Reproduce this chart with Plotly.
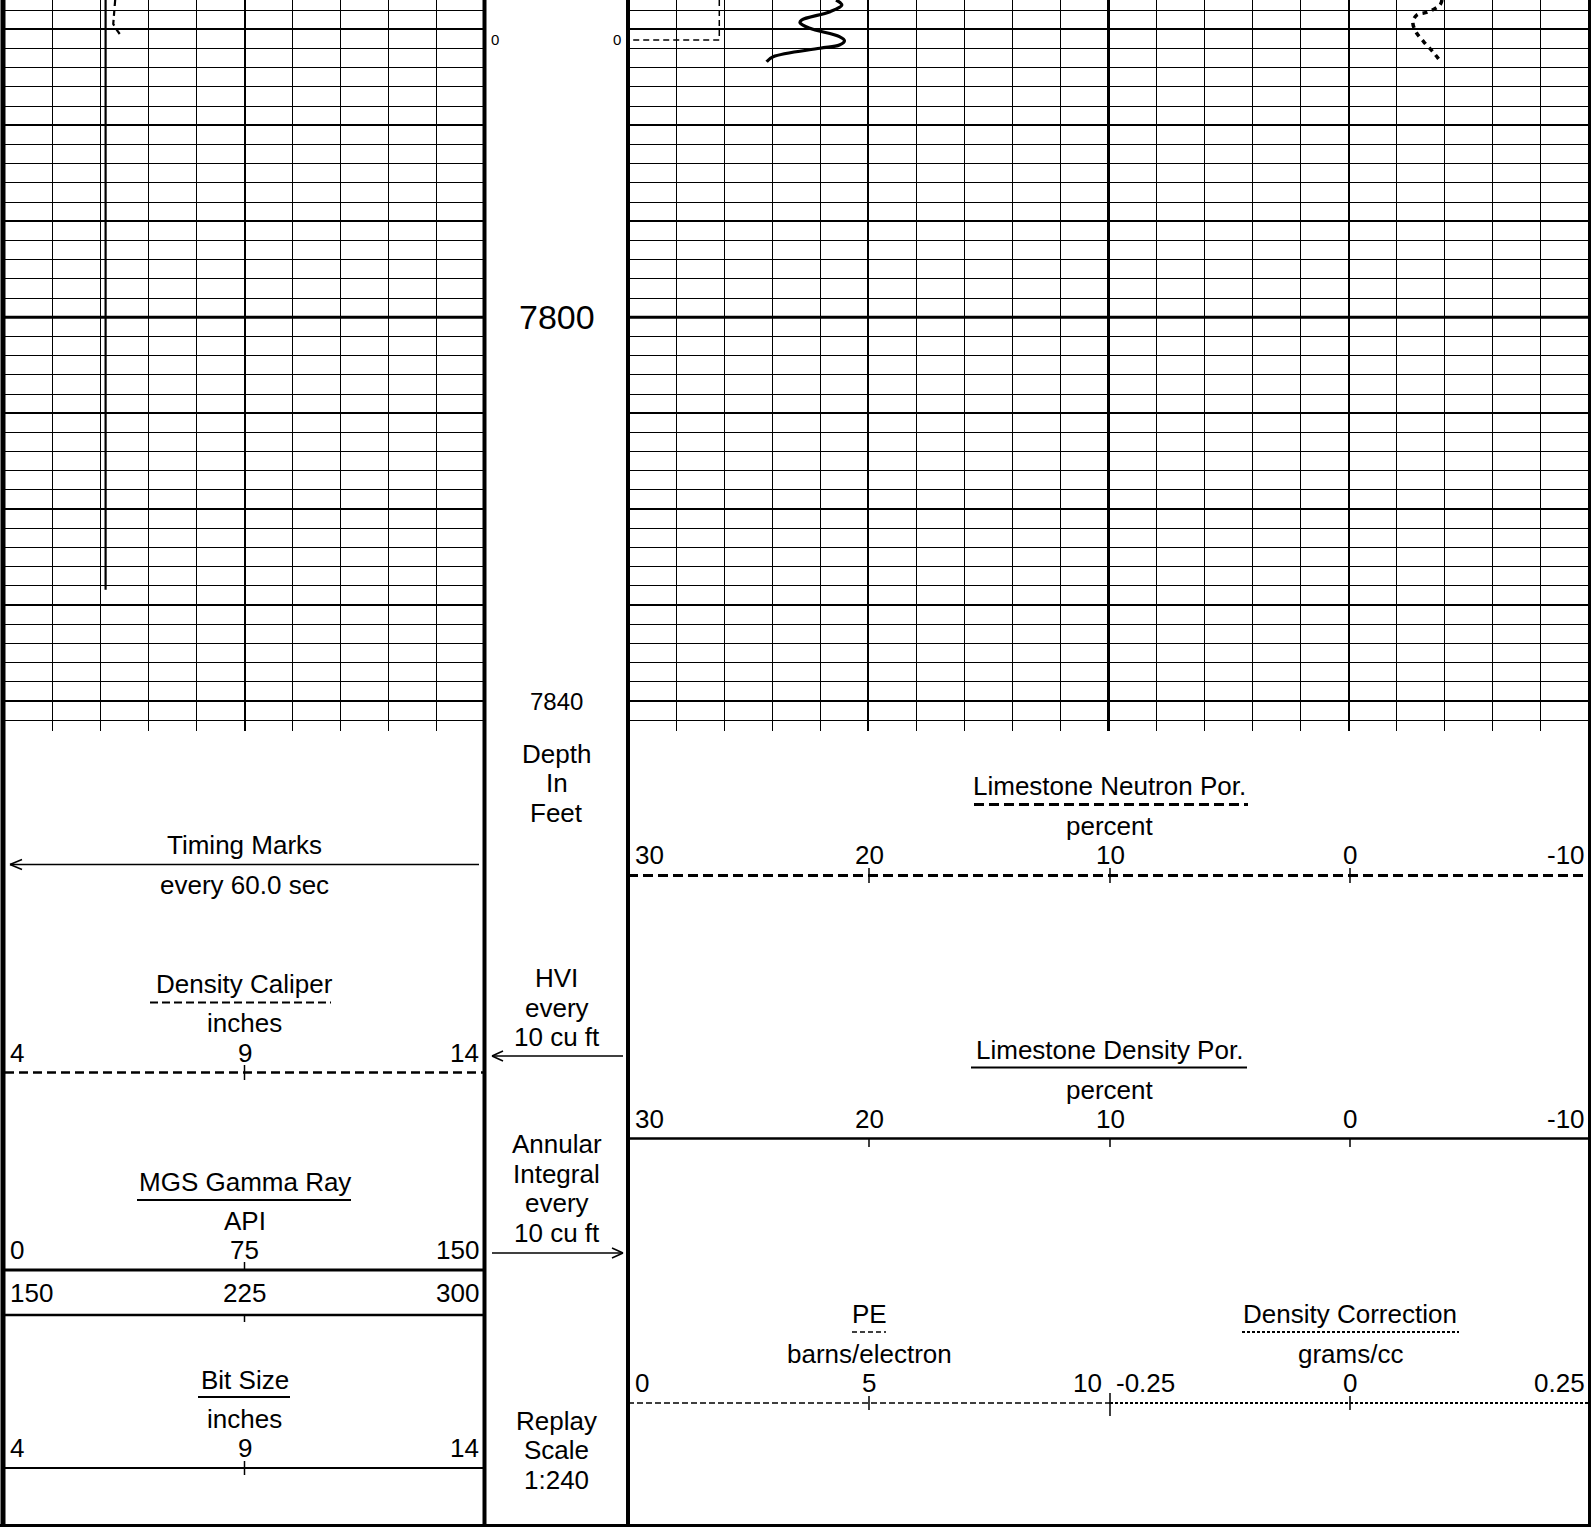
import plotly.graph_objects as go

# ---------------- data ----------------
depth_top = 7766.94
depth_bottom = 7843.12

# Track 1 curves (scale 4-14 in)
bit_depth = [7766.9, 7828.4]
bit_size = [6.1, 6.1]
cal_depth = [7766.94, 7768.19, 7769.44, 7769.96, 7770.80]
caliper = [6.30, 6.28, 6.26, 6.32, 6.44]

# Track 2/3 curves
dphi_depth = [7766.94, 7767.46, 7768.16, 7769.02, 7769.31, 7769.89, 7770.76, 7771.18,
              7771.63, 7771.97, 7772.85, 7773.37]
dphi = [21.34, 21.10, 21.59, 22.77, 22.84, 22.43, 21.20, 20.99, 21.20, 22.01, 23.96, 24.23]
nphi_depth = [7766.94, 7767.46, 7768.19, 7768.50, 7769.23, 7770.27, 7771.32, 7772.36, 7773.40]
nphi = [-3.88, -3.80, -3.30, -2.84, -2.67, -2.80, -3.13, -3.51, -3.84]
pe_depth = [7766.94, 7771.1, 7771.1]
pe = [1.9, 1.9, 0.1]

depth_labels = [7800, 7840]
integ_depth = 7771.1

t1_ticks = ["4", "9", "14"]
gr_ticks = ["0", "75", "150"]
gr_back_ticks = ["150", "225", "300"]
por_ticks = ["30", "20", "10", "0", "-10"]

# ---------------- geometry helpers ----------------
W, H = 1591, 1531
FONT = "Arial, Liberation Sans, sans-serif"
FS = 26


def px(x):
    return x / W


def py(y):
    return 1 - y / H


shapes = []
annotations = []


def line(x0, y0, x1, y1, width=1.5, dash="solid"):
    shapes.append(dict(type="line", xref="paper", yref="paper",
                       x0=px(x0), y0=py(y0), x1=px(x1), y1=py(y1),
                       line=dict(color="black", width=width, dash=dash)))


def text(t, x, y, size=FS, anchor="center"):
    annotations.append(dict(text=t, xref="paper", yref="paper", x=px(x), y=py(y),
                            xanchor=anchor, yanchor="middle", showarrow=False,
                            font=dict(family=FONT, size=size, color="black")))


# ---------------- figure ----------------
fig = go.Figure()
fig.add_trace(go.Scatter(x=bit_size, y=bit_depth, mode="lines", xaxis="x", yaxis="y",
                         line=dict(color="black", width=2.2), name="Bit Size"))
fig.add_trace(go.Scatter(x=caliper, y=cal_depth, mode="lines", xaxis="x", yaxis="y",
                         line=dict(color="black", width=2.2, dash="6px,4px"), name="Density Caliper"))
fig.add_trace(go.Scatter(x=dphi, y=dphi_depth, mode="lines", xaxis="x2", yaxis="y2",
                         line=dict(color="black", width=3.2, shape="spline"),
                         name="Limestone Density Por."))
fig.add_trace(go.Scatter(x=nphi, y=nphi_depth, mode="lines", xaxis="x2", yaxis="y2",
                         line=dict(color="black", width=3.5, dash="5px,5px", shape="spline"),
                         name="Limestone Neutron Por."))
fig.add_trace(go.Scatter(x=pe, y=pe_depth, mode="lines", xaxis="x3", yaxis="y2",
                         line=dict(color="black", width=1.5, dash="6px,4px"), name="PE"))

grid_dom_y = [py(731), 1]
ax_common = dict(showticklabels=False, ticks="", showline=False, zeroline=False,
                 fixedrange=True)

fig.update_layout(
    width=W, height=H, margin=dict(l=0, r=0, t=0, b=0),
    paper_bgcolor="white", plot_bgcolor="white", showlegend=False,
    xaxis=dict(domain=[px(5), px(484)], anchor="y", range=[4, 14],
               showgrid=True, gridcolor="black", gridwidth=2, dtick=5, tick0=4,
               minor=dict(dtick=1, tick0=4, showgrid=True, gridcolor="black", gridwidth=1, ticks=""),
               **ax_common),
    yaxis=dict(domain=grid_dom_y, anchor="x", range=[depth_bottom, depth_top],
               showgrid=True, gridcolor="black", gridwidth=2, dtick=10, tick0=7800,
               minor=dict(dtick=2, tick0=7800, showgrid=True, gridcolor="black", gridwidth=1, ticks=""),
               **ax_common),
    xaxis2=dict(domain=[px(628), px(1589)], anchor="y2", range=[30, -10],
                showgrid=True, gridcolor="black", gridwidth=2, dtick=10, tick0=0,
                minor=dict(dtick=2, tick0=0, showgrid=True, gridcolor="black", gridwidth=1, ticks=""),
                **ax_common),
    yaxis2=dict(domain=grid_dom_y, anchor="x2", matches="y", range=[depth_bottom, depth_top],
                showgrid=True, gridcolor="black", gridwidth=2, dtick=10, tick0=7800,
                minor=dict(dtick=2, tick0=7800, showgrid=True, gridcolor="black", gridwidth=1, ticks=""),
                **ax_common),
    xaxis3=dict(overlaying="x2", anchor="y2", range=[0, 20], visible=False, fixedrange=True),
)

# heavier grid lines
for xr, yr in (("x domain", "y"), ("x2 domain", "y2")):
    shapes.append(dict(type="line", xref=xr, yref=yr, x0=0, x1=1, y0=7800, y1=7800,
                       line=dict(color="black", width=3)))
shapes.append(dict(type="line", xref="x2", yref="y2 domain", x0=10, x1=10, y0=0, y1=1,
                   line=dict(color="black", width=3)))

# borders
line(3, 0, 3, 1525, width=5)
line(484.5, 0, 484.5, 1525, width=4)
line(628, 0, 628, 1525, width=4)
line(1589.5, 0, 1589.5, 1525, width=3)
line(0, 1525.5, 1591, 1525.5, width=3)

# ---- Track 1 header ----
c1 = 244.5
line(10, 864.5, 479, 864.5, width=1.5)
line(10, 864.5, 22, 859.5, width=1.5)
line(10, 864.5, 22, 869.5, width=1.5)
text("Timing Marks", c1, 845)
text("every 60.0 sec", c1, 885)

text("Density Caliper", c1, 984)
line(150, 1002.5, 331, 1002.5, width=2, dash="8px,4px")
text("inches", c1, 1023)
line(5, 1072.5, 484, 1072.5, width=2.5, dash="9px,5px")
line(c1, 1065, c1, 1080, width=1.5)

text("MGS Gamma Ray", c1, 1182)
line(137, 1200, 351, 1200, width=2.2)
text("API", c1, 1221)
line(5, 1270, 484, 1270, width=3)
line(c1, 1262, c1, 1270, width=1.5)
line(5, 1315, 484, 1315, width=2.5)
line(c1, 1315, c1, 1322, width=1.5)

text("Bit Size", c1, 1380)
line(198, 1397, 290, 1397, width=2)
text("inches", c1, 1418.5)
line(5, 1468, 484, 1468, width=2)
line(c1, 1461, c1, 1475, width=1.5)

for y, labs in ((1053, t1_ticks), (1250, gr_ticks), (1293, gr_back_ticks), (1448, t1_ticks)):
    text(labs[0], 8, y, anchor="left")
    text(labs[1], c1, y)
    text(labs[2], 481, y, anchor="right")

# ---- Depth track ----
c2 = 556.5
for d, sz in zip(depth_labels, (34, 24)):
    annotations.append(dict(text=str(d), xref="paper", yref="y", x=px(c2), y=d,
                            xanchor="center", yanchor="middle", showarrow=False,
                            font=dict(family=FONT, size=sz, color="black")))
annotations.append(dict(text="0", xref="paper", yref="y", x=px(489), y=integ_depth,
                        xanchor="left", yanchor="middle", showarrow=False,
                        font=dict(family=FONT, size=15, color="black")))
annotations.append(dict(text="0", xref="paper", yref="y", x=px(623), y=integ_depth,
                        xanchor="right", yanchor="middle", showarrow=False,
                        font=dict(family=FONT, size=15, color="black")))
for t, y in (("Depth", 754), ("In", 783), ("Feet", 813),
             ("HVI", 978), ("every", 1007.6), ("10 cu ft", 1037),
             ("Annular", 1143.6), ("Integral", 1174), ("every", 1203), ("10 cu ft", 1233),
             ("Replay", 1420.6), ("Scale", 1450), ("1:240", 1480)):
    text(t, c2, y)
# HVI arrow (points left)
line(492, 1056, 623, 1056, width=1.5)
line(492, 1056, 503, 1051, width=1.5)
line(492, 1056, 503, 1061, width=1.5)
# Annular arrow (points right)
line(492, 1253, 623, 1253, width=1.5)
line(623, 1253, 612, 1248, width=1.5)
line(623, 1253, 612, 1258, width=1.5)

# ---- Right track header ----
c3 = 1109
tick_x = [869, 1110, 1350]
text("Limestone Neutron Por.", c3, 786.4)
line(974, 804.6, 1248, 804.6, width=3, dash="10px,5px")
text("percent", c3, 826)
line(628, 875.5, 1589, 875.5, width=3, dash="10px,5px")
for x in tick_x:
    line(x, 868, x, 883, width=1.5)

text("Limestone Density Por.", c3, 1050)
line(971, 1067.5, 1247, 1067.5, width=2.2)
text("percent", c3, 1090)
line(628, 1138.5, 1589, 1138.5, width=2.5)
for x in tick_x:
    line(x, 1138, x, 1147, width=1.5)

for y in (855, 1119):
    text(por_ticks[0], 633, y, anchor="left")
    for x, lab in zip(tick_x, por_ticks[1:4]):
        text(lab, x, y)
    text(por_ticks[4], 1587, y, anchor="right")

text("PE", 869, 1314)
line(852, 1332, 886, 1332, width=1.5, dash="5px,3px")
text("barns/electron", 869, 1353.6)
text("Density Correction", 1350, 1314)
line(1242, 1332, 1459, 1332, width=2, dash="3px,2px")
text("grams/cc", 1350, 1354)
line(628, 1403, 1110, 1403, width=1.5, dash="6px,3px")
line(1110, 1403, 1589, 1403, width=2, dash="3px,2px")
line(869, 1396, 869, 1410, width=1.5)
line(1350, 1396, 1350, 1410, width=1.5)
line(1110, 1393, 1110, 1416, width=1.5)
text("0", 633, 1383, anchor="left")
text("5", 869, 1383)
text("10", 1104, 1383, anchor="right")
text("-0.25", 1114, 1383, anchor="left")
text("0", 1350, 1383)
text("0.25", 1587, 1383, anchor="right")

fig.update_layout(shapes=shapes, annotations=annotations)
fig.write_html("out.html", config={"displayModeBar": False},
               post_script="document.body.style.margin='0';document.body.style.padding='0';"
                           "document.documentElement.style.overflow='hidden';")
